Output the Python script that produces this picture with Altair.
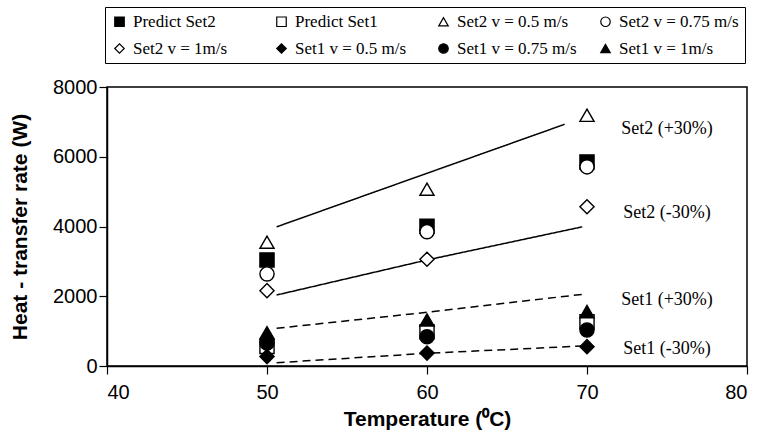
import altair as alt
import pandas as pd

# ---------------- data ----------------
temps = [50, 60, 70]

series_names = [
    "Predict Set2", "Predict Set1", "Set2 v = 0.5 m/s", "Set2 v = 0.75 m/s",
    "Set2 v = 1m/s", "Set1 v = 0.5 m/s", "Set1 v = 0.75 m/s", "Set1 v = 1m/s",
]
predict_set2 = [3040, 4010, 5850]
predict_set1 = [560, 985, 1270]
set2_v05 = [3550, 5070, 7190]
set2_v075 = [2640, 3850, 5710]
set2_v1 = [2160, 3060, 4565]
set1_v05 = [270, 370, 555]
set1_v075 = [660, 840, 1030]
set1_v1 = [955, 1320, 1560]
series_values = [predict_set2, predict_set1, set2_v05, set2_v075,
                 set2_v1, set1_v05, set1_v075, set1_v1]

band_names = ["Set2 (+30%)", "Set2 (-30%)", "Set1 (+30%)", "Set1 (-30%)"]
band_x = [[50.6, 68.6], [50.6, 60, 69.7], [50.6, 60, 69.7], [50.6, 60, 69.7]]
band_y = [[3990, 6930], [2035, 3040, 3990], [1080, 1540, 2055], [95, 364, 573]]
band_label_x = 75
band_label_y = [6795, 4387, 1892, 487]

x_ticks = [40, 50, 60, 70, 80]
y_ticks = [0, 2000, 4000, 6000, 8000]

# ---------------- styles ----------------
series_shapes = ["square", "square", "triangle-up", "circle",
                 "diamond", "diamond", "circle", "triangle-up"]
series_fills = ["black", "white", "white", "white",
                "white", "black", "black", "black"]
series_strokes = ["black"] * len(series_names)
band_dash = [[1, 0], [1, 0], [8, 5], [8, 5]]

# ---------------- tables ----------------
pts = pd.DataFrame(
    [{"t": t, "q": v, "series": name, "ord": i}
     for i, (name, vals) in enumerate(zip(series_names, series_values))
     for t, v in zip(temps, vals)]
)
lines = pd.DataFrame(
    [{"t": xx, "q": yy, "band": name}
     for name, xs, ys in zip(band_names, band_x, band_y)
     for xx, yy in zip(xs, ys)]
)
labels = pd.DataFrame({"t": [band_label_x] * len(band_names),
                       "q": band_label_y, "band": band_names})

xenc = alt.X("t:Q", scale=alt.Scale(domain=[40, 80], nice=False, zero=False),
             axis=alt.Axis(values=x_ticks, title="Temperature  (⁰C)",
                           labelPadding=8, titlePadding=6))
yenc = alt.Y("q:Q", scale=alt.Scale(domain=[0, 8000], nice=False),
             axis=alt.Axis(values=y_ticks, title="Heat - transfer rate (W)", format="d",
                           labelPadding=2, titlePadding=22))

legend = alt.Legend(
    title=None, orient="none", legendX=-2, legendY=-80, direction="horizontal",
    columns=4, gridAlign="all", columnPadding=20, rowPadding=9, padding=6,
    strokeColor="black", labelFont="Liberation Serif", labelFontSize=17,
    labelColor="black", symbolSize=90, symbolStrokeColor="black",
    symbolStrokeWidth=1.2, labelOffset=5, symbolOpacity=1,
)

line_layer = alt.Chart(lines).mark_line(color="black", strokeWidth=1.5).encode(
    x=xenc, y=yenc,
    detail="band:N",
    strokeDash=alt.StrokeDash("band:N", scale=alt.Scale(domain=band_names, range=band_dash), legend=None),
)

point_layer = alt.Chart(pts).mark_point(
    filled=True, strokeWidth=1.4, size=200, opacity=1
).encode(
    x=xenc, y=yenc,
    shape=alt.Shape("series:N", scale=alt.Scale(domain=series_names, range=series_shapes), legend=legend),
    fill=alt.Fill("series:N", scale=alt.Scale(domain=series_names, range=series_fills), legend=legend),
    stroke=alt.Stroke("series:N", scale=alt.Scale(domain=series_names, range=series_strokes), legend=legend),
    order=alt.Order("ord:Q"),
)

text_layer = alt.Chart(labels).mark_text(
    font="Liberation Serif", fontSize=18, color="black", align="center", baseline="middle"
).encode(x=xenc, y=yenc, text="band:N")

chart = alt.layer(line_layer, point_layer, text_layer).properties(
    width=640, height=279,
    autosize=alt.AutoSizeParams(type="none"),
    padding={"left": 107, "top": 87, "right": 13, "bottom": 66},
    background="white",
).configure_view(
    stroke="black", strokeWidth=1.5
).configure_axis(
    grid=False, domainColor="black", domainWidth=1.5, tickColor="black",
    tickWidth=1.2, tickSize=8, labelFont="Liberation Sans", labelFontSize=20,
    labelColor="black", titleFont="Liberation Sans", titleFontSize=21,
    titleFontWeight="bold", titleColor="black",
)

chart.save("out.html", embed_options={"renderer": "svg", "actions": False})
